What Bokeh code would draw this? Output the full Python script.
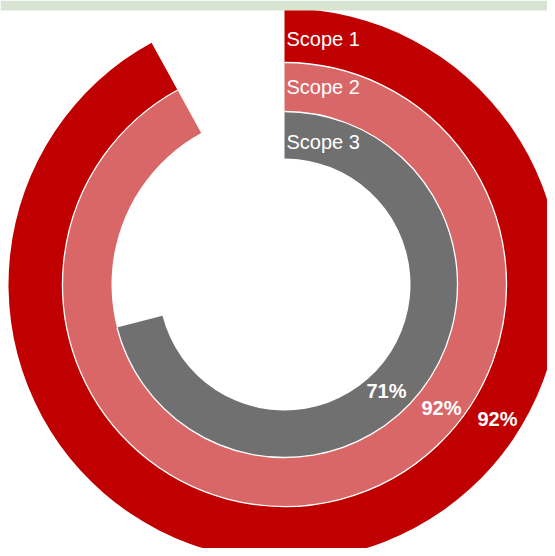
import math
from bokeh.plotting import figure
from bokeh.models import Range1d, ColumnDataSource
from bokeh.core.properties import value
from bokeh.embed import file_html
from bokeh.resources import INLINE

# ---- data ----
categories = ["Scope 1", "Scope 2", "Scope 3"]
shares = [0.92, 0.92, 0.71]
pct_labels = ["92%", "92%", "71%"]
colors = ["#C00000", "#D96767", "#707070"]

# ---- geometry (screen px of the reference picture) ----
W, H = 547, 548
cx_px, cy_px = 284, 284
outer = [276, 222, 173]
inner = [222, 173, 126]

def dy(py):
    return H - py

p = figure(width=W, height=H, output_backend="svg", toolbar_location=None,
           x_range=Range1d(0, W), y_range=Range1d(0, H), min_border=0)
p.axis.visible = False
p.grid.visible = False
p.outline_line_color = None
p.background_fill_color = "white"

start = math.pi / 2
ends = [start - 2 * math.pi * s for s in shares]
src = ColumnDataSource(dict(x=[cx_px] * 3, y=[dy(cy_px)] * 3, ir=inner, orr=outer,
                            sa=[start] * 3, ea=ends, color=colors))
p.annular_wedge(x="x", y="y", inner_radius="ir", outer_radius="orr",
                start_angle="sa", end_angle="ea", direction="clock",
                fill_color="color", line_color=None, source=src)

# white separators between rings
for i in range(2):
    p.arc(x=[cx_px], y=[dy(cy_px)], radius=inner[i], start_angle=start,
          end_angle=start - 2 * math.pi * min(shares[i], shares[i + 1]),
          direction="clock", line_color="white", line_width=1.3)

# top band
p.quad(left=[0], right=[W], bottom=[dy(10)], top=[dy(0)], fill_color="#D6E4D1", line_color=None)

# scope labels
lab_y = [38, 86, 141]
p.text(x=[286] * 3, y=[dy(v) for v in lab_y], text=categories, text_color="white",
       text_font=value("Liberation Sans"), text_font_size="20px",
       text_align="left", text_baseline="middle")

# percentage labels
pct_x = [497, 441, 386]
pct_y = [418, 407, 390]
p.text(x=pct_x, y=[dy(v) for v in pct_y], text=pct_labels, text_color="white",
       text_font=value("Liberation Sans"), text_font_size="20px", text_font_style="bold",
       text_align="center", text_baseline="middle")

open("out.html", "w").write(file_html(p, INLINE))
